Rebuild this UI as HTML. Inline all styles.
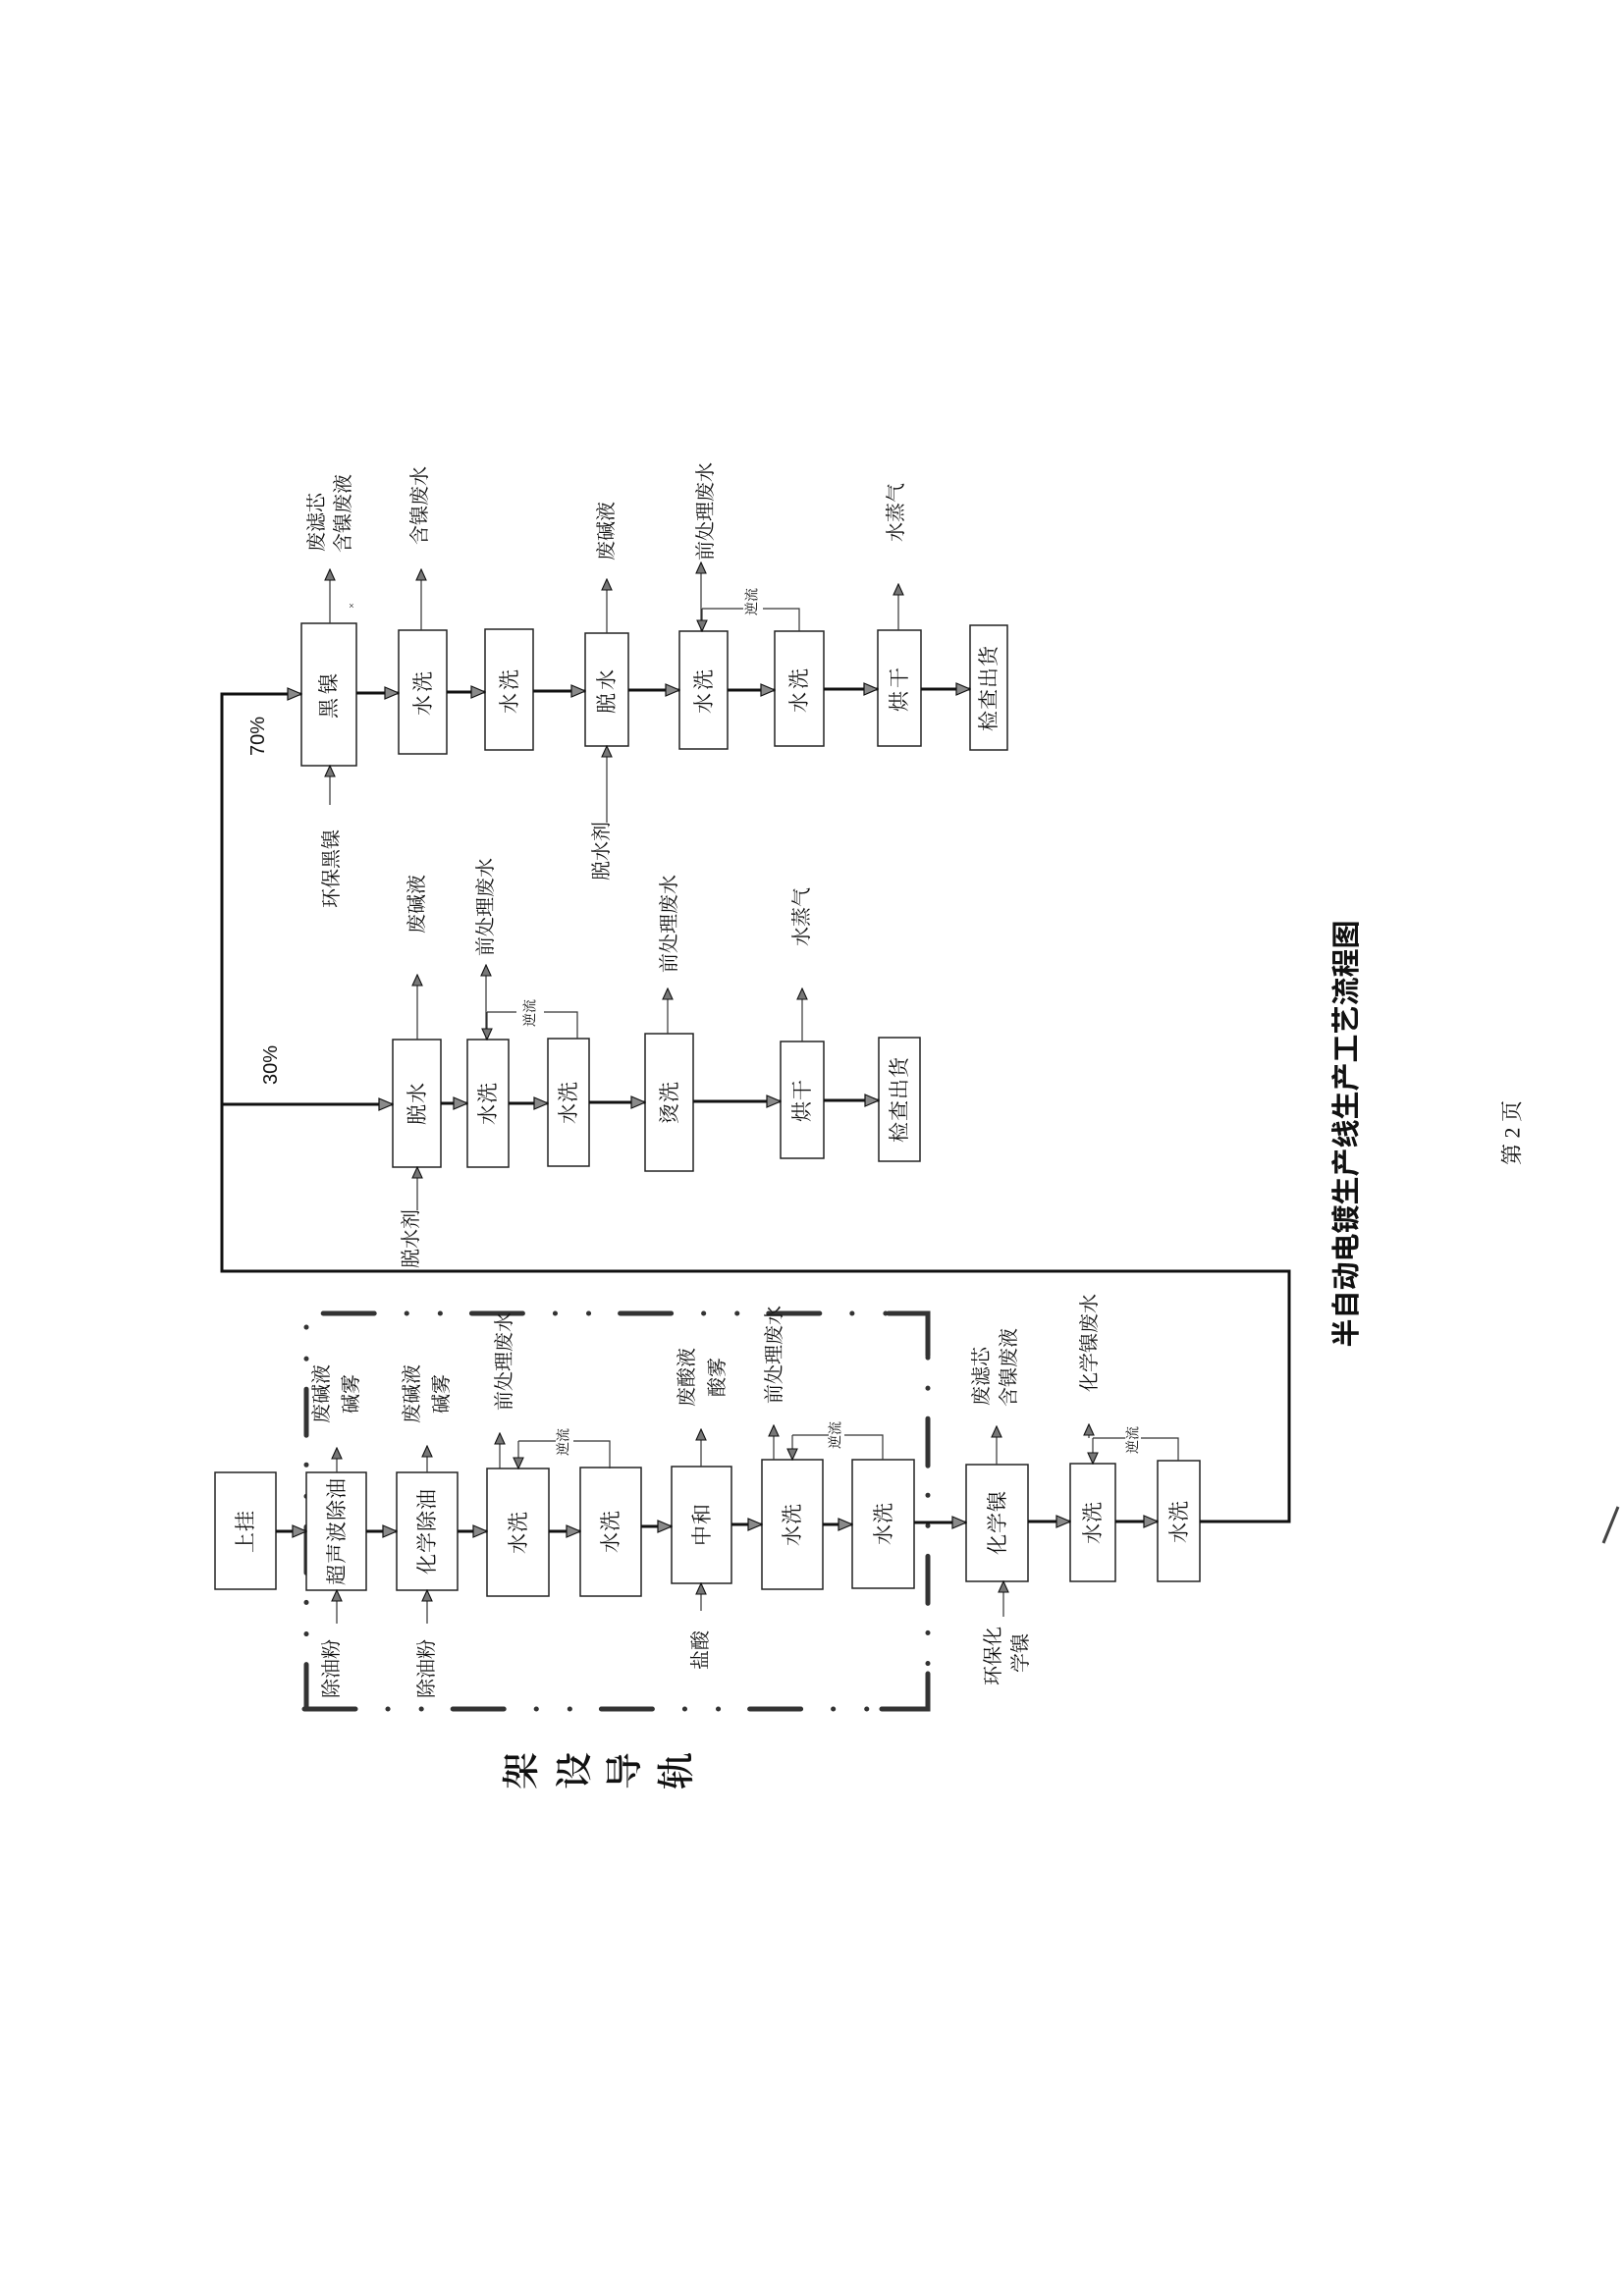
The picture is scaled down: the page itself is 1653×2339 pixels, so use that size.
<!DOCTYPE html>
<html><head><meta charset="utf-8"><style>
html,body{margin:0;padding:0;background:#fff}
svg{display:block}
text{font-family:"Liberation Serif","Noto Serif CJK SC",serif;fill:#111}
.b{font-size:21px;letter-spacing:1px}
.l{font-size:20px}
.s{font-size:14px}
</style></head><body>
<svg width="1653" height="2339" viewBox="0 0 1653 2339" xmlns="http://www.w3.org/2000/svg">
<defs>
<marker id="A" markerUnits="userSpaceOnUse" markerWidth="16" markerHeight="14" refX="15" refY="7" orient="auto"><path d="M1,1 L15,7 L1,13 z" fill="#8a8a8a" stroke="#111" stroke-width="1.2"/></marker>
<marker id="S" markerUnits="userSpaceOnUse" markerWidth="13" markerHeight="12" refX="12" refY="6" orient="auto"><path d="M1,1 L12,6 L1,11 z" fill="#777" stroke="#111" stroke-width="1.1"/></marker>
</defs>

<!-- dashed border -->
<g stroke="#333" stroke-width="5" stroke-linecap="round" fill="none">
<line x1="312" y1="1338" x2="945" y2="1338" stroke-dasharray="52 33 0.1 34 0.1 32" stroke-dashoffset="134"/>
<line x1="310" y1="1741" x2="945" y2="1741" stroke-dasharray="52 33 0.1 34 0.1 32"/>
<line x1="312" y1="1338" x2="312" y2="1741" stroke-dasharray="47 30 0.1 32 0.1 31" stroke-dashoffset="63"/>
<line x1="945" y1="1381" x2="945" y2="1741" stroke-dasharray="0.1 31 0.1 31 48 30" stroke-dashoffset="-2"/>
<path d="M905,1338 L945,1338 L945,1381"/>
<path d="M312,1697 L312,1741 L361,1741"/>
<path d="M898,1741 L945,1741 L945,1705"/>
</g>

<!-- boxes -->
<g fill="#fff" stroke="#222" stroke-width="1.5">
<rect x="219" y="1500" width="62" height="119"/>
<rect x="312" y="1500" width="61" height="120"/>
<rect x="404" y="1500" width="62" height="120"/>
<rect x="496" y="1496" width="63" height="130"/>
<rect x="591" y="1495" width="62" height="131"/>
<rect x="684" y="1494" width="61" height="119"/>
<rect x="776" y="1487" width="62" height="132"/>
<rect x="868" y="1487" width="63" height="131"/>
<rect x="984" y="1492" width="63" height="119"/>
<rect x="1090" y="1491" width="46" height="120"/>
<rect x="1179" y="1488" width="43" height="123"/>

<rect x="400" y="1059" width="49" height="130"/>
<rect x="476" y="1059" width="42" height="130"/>
<rect x="558" y="1058" width="42" height="130"/>
<rect x="657" y="1053" width="49" height="140"/>
<rect x="795" y="1061" width="44" height="119"/>
<rect x="895" y="1057" width="42" height="126"/>

<rect x="307" y="635" width="56" height="145"/>
<rect x="406" y="642" width="49" height="126"/>
<rect x="494" y="641" width="49" height="123"/>
<rect x="596" y="645" width="44" height="115"/>
<rect x="692" y="643" width="49" height="120"/>
<rect x="789" y="643" width="50" height="117"/>
<rect x="894" y="642" width="44" height="118"/>
<rect x="988" y="637" width="38" height="127"/>
</g>

<!-- main flows -->
<g stroke="#111" stroke-width="3" fill="none" marker-end="url(#A)">
<line x1="281" y1="1560" x2="312" y2="1560"/>
<line x1="373" y1="1560" x2="404" y2="1560"/>
<line x1="466" y1="1560" x2="496" y2="1560"/>
<line x1="559" y1="1560" x2="591" y2="1560"/>
<line x1="653" y1="1555" x2="684" y2="1555"/>
<line x1="745" y1="1553" x2="776" y2="1553"/>
<line x1="838" y1="1553" x2="868" y2="1553"/>
<line x1="931" y1="1551" x2="984" y2="1551"/>
<line x1="1047" y1="1550" x2="1090" y2="1550"/>
<line x1="1136" y1="1550" x2="1179" y2="1550"/>
<path d="M1222,1550 L1313,1550 L1313,1295 L226,1295 L226,707 L307,707"/>
<line x1="226" y1="1125" x2="400" y2="1125"/>
<line x1="449" y1="1124" x2="476" y2="1124"/>
<line x1="518" y1="1124" x2="558" y2="1124"/>
<line x1="600" y1="1123" x2="657" y2="1123"/>
<line x1="706" y1="1122" x2="795" y2="1122"/>
<line x1="839" y1="1121" x2="895" y2="1121"/>
<line x1="363" y1="706" x2="406" y2="706"/>
<line x1="455" y1="705" x2="494" y2="705"/>
<line x1="543" y1="704" x2="596" y2="704"/>
<line x1="640" y1="703" x2="692" y2="703"/>
<line x1="741" y1="703" x2="789" y2="703"/>
<line x1="839" y1="702" x2="894" y2="702"/>
<line x1="938" y1="702" x2="988" y2="702"/>
</g>

<!-- side arrows -->
<g stroke="#333" stroke-width="1.2" fill="none" marker-end="url(#S)">
<line x1="343" y1="1500" x2="343" y2="1475"/>
<line x1="435" y1="1500" x2="435" y2="1473"/>
<line x1="509" y1="1496" x2="509" y2="1460"/>
<line x1="714" y1="1494" x2="714" y2="1456"/>
<line x1="788" y1="1487" x2="788" y2="1452"/>
<line x1="1015" y1="1492" x2="1015" y2="1453"/>
<line x1="1109" y1="1465" x2="1109" y2="1451"/>
<line x1="343" y1="1654" x2="343" y2="1620"/>
<line x1="435" y1="1654" x2="435" y2="1620"/>
<line x1="714" y1="1641" x2="714" y2="1613"/>
<line x1="1022" y1="1647" x2="1022" y2="1611"/>
<path d="M528,1468 L528,1496"/>
<path d="M807,1462 L807,1487"/>
<path d="M1113,1465 L1113,1491"/>
<line x1="425" y1="1059" x2="425" y2="993"/>
<line x1="425" y1="1233" x2="425" y2="1189"/>
<line x1="495" y1="1059" x2="495" y2="983"/>
<path d="M496,1031 L496,1059"/>
<line x1="680" y1="1053" x2="680" y2="1007"/>
<line x1="817" y1="1061" x2="817" y2="1007"/>
<line x1="336" y1="635" x2="336" y2="580"/>
<line x1="336" y1="820" x2="336" y2="780"/>
<line x1="429" y1="642" x2="429" y2="580"/>
<line x1="618" y1="645" x2="618" y2="590"/>
<line x1="618" y1="838" x2="618" y2="760"/>
<line x1="714" y1="643" x2="714" y2="573"/>
<path d="M715,620 L715,643"/>
<line x1="915" y1="642" x2="915" y2="595"/>
</g>
<g stroke="#333" stroke-width="1.2" fill="none">
<path d="M621,1496 L621,1468 L584,1468 M566,1468 L528,1468"/>
<path d="M899,1487 L899,1462 L860,1462 M844,1462 L807,1462"/>
<path d="M1200,1488 L1200,1465 L1162,1465 M1146,1465 L1113,1465"/>
<path d="M588,1058 L588,1031 L554,1031 M526,1031 L496,1031"/>
<path d="M814,643 L814,620 L777,620 M757,620 L715,620"/>
<line x1="1633" y1="1572" x2="1648" y2="1535" stroke="#444" stroke-width="3"/>
</g>

<!-- box texts -->
<g class="b" text-anchor="middle" dominant-baseline="central">
<text transform="translate(250,1560) rotate(-90)">上挂</text>
<text transform="translate(343,1560) rotate(-90)">超声波除油</text>
<text transform="translate(435,1560) rotate(-90)">化学除油</text>
<text transform="translate(528,1561) rotate(-90)">水洗</text>
<text transform="translate(622,1560) rotate(-90)">水洗</text>
<text transform="translate(715,1553) rotate(-90)">中和</text>
<text transform="translate(807,1553) rotate(-90)">水洗</text>
<text transform="translate(900,1552) rotate(-90)">水洗</text>
<text transform="translate(1016,1551) rotate(-90)">化学镍</text>
<text transform="translate(1113,1551) rotate(-90)">水洗</text>
<text transform="translate(1201,1550) rotate(-90)">水洗</text>
<text transform="translate(425,1124) rotate(-90)">脱水</text>
<text transform="translate(497,1124) rotate(-90)">水洗</text>
<text transform="translate(579,1123) rotate(-90)">水洗</text>
<text transform="translate(682,1123) rotate(-90)">烫洗</text>
<text transform="translate(817,1121) rotate(-90)">烘干</text>
<text transform="translate(916,1120) rotate(-90)">检查出货</text>
<text transform="translate(335,707) rotate(-90)" style="letter-spacing:4px">黑镍</text>
<text transform="translate(431,705) rotate(-90)" style="letter-spacing:3px">水洗</text>
<text transform="translate(519,703) rotate(-90)" style="letter-spacing:3px">水洗</text>
<text transform="translate(618,703) rotate(-90)" style="letter-spacing:3px">脱水</text>
<text transform="translate(717,703) rotate(-90)" style="letter-spacing:3px">水洗</text>
<text transform="translate(814,702) rotate(-90)" style="letter-spacing:3px">水洗</text>
<text transform="translate(916,701) rotate(-90)" style="letter-spacing:3px">烘干</text>
<text transform="translate(1007,701) rotate(-90)">检查出货</text>
</g>

<!-- labels -->
<g class="l" text-anchor="middle" dominant-baseline="central">
<text transform="translate(328,1420) rotate(-90)">废碱液</text>
<text transform="translate(358,1420) rotate(-90)">碱雾</text>
<text transform="translate(420,1420) rotate(-90)">废碱液</text>
<text transform="translate(450,1420) rotate(-90)">碱雾</text>
<text transform="translate(514,1387) rotate(-90)">前处理废水</text>
<text transform="translate(700,1403) rotate(-90)">废酸液</text>
<text transform="translate(731,1403) rotate(-90)">酸雾</text>
<text transform="translate(789,1380) rotate(-90)">前处理废水</text>
<text transform="translate(1110,1368) rotate(-90)">化学镍废水</text>
<text transform="translate(338,1700) rotate(-90)">除油粉</text>
<text transform="translate(435,1700) rotate(-90)">除油粉</text>
<text transform="translate(714,1681) rotate(-90)">盐酸</text>
<text transform="translate(1012,1687) rotate(-90)">环保化</text>
<text transform="translate(1040,1684) rotate(-90)">学镍</text>
<text transform="translate(276,1085) rotate(-90)" style="font-family:'Liberation Sans',sans-serif">30%</text>
<text transform="translate(425,921) rotate(-90)">废碱液</text>
<text transform="translate(495,924) rotate(-90)">前处理废水</text>
<text transform="translate(682,941) rotate(-90)">前处理废水</text>
<text transform="translate(817,934) rotate(-90)">水蒸气</text>
<text transform="translate(419,1262) rotate(-90)">脱水剂</text>
<text transform="translate(338,885) rotate(-90)">环保黑镍</text>
<text transform="translate(613,867) rotate(-90)">脱水剂</text>
<text transform="translate(263,750) rotate(-90)" style="font-family:'Liberation Sans',sans-serif">70%</text>
<text transform="translate(428,515) rotate(-90)">含镍废水</text>
<text transform="translate(618,541) rotate(-90)">废碱液</text>
<text transform="translate(719,521) rotate(-90)">前处理废水</text>
<text transform="translate(913,522) rotate(-90)">水蒸气</text>
</g>
<g class="l" text-anchor="start" dominant-baseline="central">
<text transform="translate(1000,1432) rotate(-90)">废滤芯</text>
<text transform="translate(1028,1433) rotate(-90)">含镍废液</text>
<text transform="translate(323,562) rotate(-90)">废滤芯</text>
<text transform="translate(350,563) rotate(-90)">含镍废液</text>
</g>
<g class="s" text-anchor="middle" dominant-baseline="central">
<text transform="translate(575,1469) rotate(-90)">逆流</text>
<text transform="translate(852,1462) rotate(-90)">逆流</text>
<text transform="translate(1155,1467) rotate(-90)">逆流</text>
<text transform="translate(541,1032) rotate(-90)">逆流</text>
<text transform="translate(767,613) rotate(-90)">逆流</text>
<text x="358" y="618" style="font-size:10px">×</text>
</g>

<!-- title, page, rail -->
<text transform="translate(1372,1155) rotate(-90)" text-anchor="middle" dominant-baseline="central" style="font-family:'Liberation Sans','Noto Sans CJK SC',sans-serif;font-size:29px;font-weight:bold">半自动电镀生产线生产工艺流程图</text>
<text transform="translate(1540,1154) rotate(-90)" text-anchor="middle" dominant-baseline="central" style="font-size:22px">第 2 页</text>
<g text-anchor="middle" dominant-baseline="central" style="font-size:38px;font-weight:600">
<text transform="translate(532,1804) rotate(-90)">架</text>
<text transform="translate(586,1804) rotate(-90)">设</text>
<text transform="translate(637,1804) rotate(-90)">导</text>
<text transform="translate(690,1804) rotate(-90)">轨</text>
</g>
</svg>
</body></html>
